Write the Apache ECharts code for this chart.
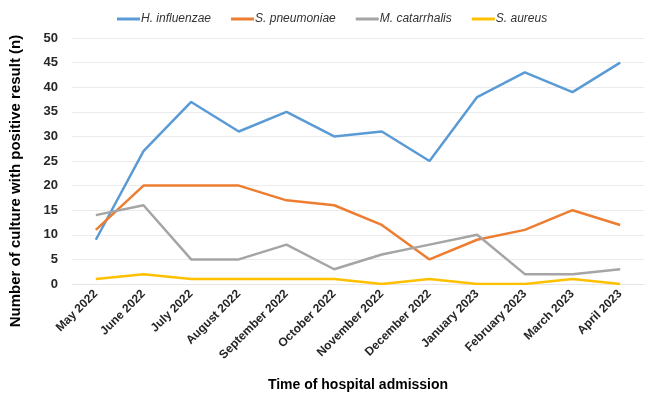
<!DOCTYPE html>
<html><head><meta charset="utf-8">
<script src="https://cdn.jsdelivr.net/npm/echarts@6/dist/echarts.min.js"></script>
<style>html,body{margin:0;padding:0;background:#fff}#c{width:645px;height:397px}</style>
</head><body><div id="c"></div>
<script>
const categories = ["May 2022","June 2022","July 2022","August 2022","September 2022","October 2022","November 2022","December 2022","January 2023","February 2023","March 2023","April 2023"];
const hInfluenzae = [9,27,37,31,35,30,31,25,38,43,39,45];
const sPneumoniae = [11,20,20,20,17,16,12,5,9,11,15,12];
const mCatarrhalis = [14,16,5,5,8,3,6,8,10,2,2,3];
const sAureus = [1,2,1,1,1,1,0,1,0,0,1,0];
const seriesNames = ["H. influenzae","S. pneumoniae","M. catarrhalis","S. aureus"];
const colors = ["#5B9BD5","#ED7D31","#A5A5A5","#FFC000"];
const values = [hInfluenzae,sPneumoniae,mCatarrhalis,sAureus];

const chart = echarts.init(document.getElementById('c'), null, {renderer:'canvas'});
const font = 'Liberation Sans, Arial, sans-serif';
chart.setOption({
  animation:false,
  textStyle:{fontFamily:font},
  color:colors,
  legend:{
    top:8, left:112, itemWidth:23, itemHeight:3, itemGap:20,
    icon:'rect',
    textStyle:{fontStyle:'italic', fontSize:12, color:'#333', fontFamily:font, padding:[0,0,0,-4]},
    data:seriesNames
  },
  grid:{left:71, right:1, top:38, bottom:113, containLabel:false},
  xAxis:{
    type:'category', data:categories, boundaryGap:true,
    name:'Time of hospital admission', nameLocation:'middle', nameGap:94,
    nameTextStyle:{fontWeight:'bold', fontSize:14, color:'#000', fontFamily:font},
    axisLine:{show:true, lineStyle:{color:'#e6e6e6'}},
    axisTick:{show:false},
    axisLabel:{rotate:45, fontWeight:'bold', fontSize:12, color:'#262626', interval:0, margin:8, fontFamily:font}
  },
  yAxis:{
    type:'value', min:0, max:50, interval:5,
    name:'Number of culture with positive result (n)', nameLocation:'middle', nameGap:49,
    nameTextStyle:{fontWeight:'bold', fontSize:15, color:'#000', fontFamily:font, padding:[0,40,0,0]},
    axisLine:{show:false}, axisTick:{show:false},
    axisLabel:{fontWeight:'bold', fontSize:13, color:'#262626', margin:14, fontFamily:font},
    splitLine:{lineStyle:{color:'#ebebeb', width:1}}
  },
  series: seriesNames.map((n,i)=>({
    name:n, type:'line', data:values[i], symbol:'none', smooth:false,
    lineStyle:{width:2.5, color:colors[i]}, itemStyle:{color:colors[i]}
  }))
});
</script></body></html>
